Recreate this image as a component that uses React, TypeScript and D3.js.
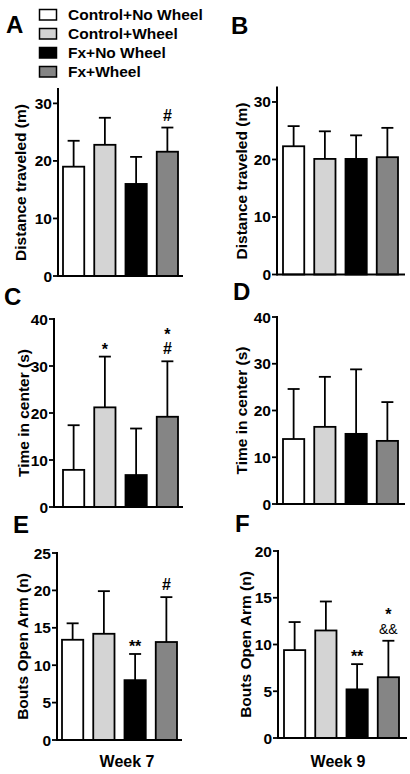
import React from "react";
import * as d3 from "d3";

const groups = ["Control+No Wheel", "Control+Wheel", "Fx+No Wheel", "Fx+Wheel"];
const groupColors = ["#ffffff", "#d4d4d4", "#000000", "#858585"];

const distW7Mean = [19.0, 22.8, 16.0, 21.6];
const distW7Err = [23.5, 27.5, 20.7, 25.8];
const distW9Mean = [22.3, 20.1, 20.1, 20.4];
const distW9Err = [25.8, 24.9, 24.2, 25.5];
const centerW7Mean = [7.9, 21.2, 6.8, 19.2];
const centerW7Err = [17.4, 32.0, 16.7, 31.0];
const centerW9Mean = [13.9, 16.5, 15.0, 13.5];
const centerW9Err = [24.6, 27.2, 28.8, 21.8];
const boutsW7Mean = [13.4, 14.2, 8.0, 13.1];
const boutsW7Err = [15.6, 19.9, 11.5, 19.1];
const boutsW9Mean = [9.4, 11.5, 5.2, 6.5];
const boutsW9Err = [12.4, 14.6, 7.9, 10.4];

const distAnn = [[], [], [], ["#"]];
const distW9Ann = [[], [], [], []];
const centerAnn = [[], ["*"], [], ["*", "#"]];
const centerW9Ann = [[], [], [], []];
const boutsAnn = [[], [], ["**"], ["#"]];
const boutsW9Ann = [[], [], ["**"], ["*", "&&"]];

const distTicks = [0, 10, 20, 30];
const centerTicks = [0, 10, 20, 30, 40];
const boutsW7Ticks = [0, 5, 10, 15, 20, 25];
const boutsW9Ticks = [0, 5, 10, 15, 20];

const FONT = "'Liberation Sans', Arial, Helvetica, sans-serif";

type Panel = {
  letter: string; lx: number; ly: number;
  axisX: number; band: [number, number]; xEnd: number;
  yDomain: [number, number]; yRange: [number, number];
  ticks: number[]; label: string; labelX: number;
  mean: number[]; err: number[]; ann: string[][];
};

const panels: Panel[] = [
  { letter: "A", lx: 6, ly: 33, axisX: 58, band: [58, 183], xEnd: 183, yDomain: [0, 32.5], yRange: [276, 89], ticks: distTicks, label: "Distance traveled (m)", labelX: 20, mean: distW7Mean, err: distW7Err, ann: distAnn },
  { letter: "B", lx: 231, ly: 34, axisX: 277, band: [278, 403], xEnd: 405, yDomain: [0, 32.5], yRange: [274.5, 87.6], ticks: distTicks, label: "Distance traveled (m)", labelX: 241, mean: distW9Mean, err: distW9Err, ann: distW9Ann },
  { letter: "C", lx: 4, ly: 305, axisX: 54, band: [58, 183], xEnd: 183, yDomain: [0, 40], yRange: [507, 319], ticks: centerTicks, label: "Time in center (s)", labelX: 23, mean: centerW7Mean, err: centerW7Err, ann: centerAnn },
  { letter: "D", lx: 233, ly: 300, axisX: 277, band: [278, 403], xEnd: 405, yDomain: [0, 40], yRange: [504, 317], ticks: centerTicks, label: "Time in center (s)", labelX: 241, mean: centerW9Mean, err: centerW9Err, ann: centerW9Ann },
  { letter: "E", lx: 13, ly: 533, axisX: 57, band: [57, 182], xEnd: 182, yDomain: [0, 25], yRange: [740, 553], ticks: boutsW7Ticks, label: "Bouts Open Arm (n)", labelX: 22, mean: boutsW7Mean, err: boutsW7Err, ann: boutsAnn },
  { letter: "F", lx: 235, ly: 532, axisX: 278, band: [279, 404], xEnd: 407, yDomain: [0, 20], yRange: [738, 551], ticks: boutsW9Ticks, label: "Bouts Open Arm (n)", labelX: 245, mean: boutsW9Mean, err: boutsW9Err, ann: boutsW9Ann },
];

function PanelView({ p }: { p: Panel }) {
  const x = d3.scaleBand<string>().domain(groups).range(p.band).paddingInner(0.32).paddingOuter(0.16);
  const y = d3.scaleLinear().domain(p.yDomain).range(p.yRange);
  const y0 = y(0);
  const bw = x.bandwidth();
  const cy = (p.yRange[0] + p.yRange[1]) / 2;
  return (
    <g>
      <text x={p.lx} y={p.ly} fontSize={24} fontWeight="bold" fontFamily={FONT}>{p.letter}</text>
      <text transform={`translate(${p.labelX},${cy}) rotate(-90)`} textAnchor="middle" dominantBaseline="central" fontSize={15.5} fontWeight="bold" fontFamily={FONT}>{p.label}</text>
      {groups.map((g, i) => {
        const bx = x(g)!;
        const cx = bx + bw / 2;
        const top = y(p.mean[i]);
        const et = y(p.err[i]);
        const ann = p.ann[i];
        const n = ann.length;
        const last = n ? ann[n - 1] : "";
        const base = et - (last.startsWith("*") ? 2 : 7);
        return (
          <g key={g}>
            <line x1={cx} x2={cx} y1={top} y2={et} stroke="#000" strokeWidth={1.8} />
            <line x1={cx - 6} x2={cx + 6} y1={et} y2={et} stroke="#000" strokeWidth={1.8} />
            <rect x={bx} y={top} width={bw} height={y0 - top} fill={groupColors[i]} stroke="#000" strokeWidth={1.8} />
            {n > 0 && (
              <text x={cx} y={base - (n - 1) * 14} textAnchor="middle" fontFamily={FONT}>
                {ann.map((s, k) => (
                  <tspan key={k} x={cx} dy={k === 0 ? 0 : 14} fontSize={s === "&&" ? 14 : 16} fontWeight={s === "&&" ? "normal" : "bold"}>{s}</tspan>
                ))}
              </text>
            )}
          </g>
        );
      })}
      <line x1={p.axisX} x2={p.axisX} y1={y0 + 1} y2={p.yRange[1] - 1} stroke="#000" strokeWidth={2} />
      <line x1={p.axisX} x2={p.xEnd} y1={y0} y2={y0} stroke="#000" strokeWidth={2} />
      {p.ticks.map((t) => (
        <g key={t}>
          <line x1={p.axisX - 5} x2={p.axisX} y1={y(t)} y2={y(t)} stroke="#000" strokeWidth={1.8} />
          <text x={p.axisX - 6} y={y(t)} textAnchor="end" dominantBaseline="central" fontSize={15.5} fontWeight="bold" fontFamily={FONT}>{t}</text>
        </g>
      ))}
    </g>
  );
}

export default function App() {
  return (
    <svg width={410} height={774} style={{ position: "absolute", left: 0, top: 0, background: "#fff" }}>
      <rect width={410} height={774} fill="#fff" />
      {groups.map((g, i) => (
        <g key={g}>
          <rect x={39.5} y={9.5 + i * 19} width={17} height={10.5} fill={groupColors[i]} stroke="#000" strokeWidth={1.5} />
          <text x={68} y={19.8 + i * 19.2} fontSize={15.5} fontWeight="bold" fontFamily={FONT}>{g}</text>
        </g>
      ))}
      {panels.map((p) => <PanelView key={p.letter} p={p} />)}
      <text x={127} y={767} textAnchor="middle" fontSize={16} fontWeight="bold" fontFamily={FONT}>Week 7</text>
      <text x={338} y={767} textAnchor="middle" fontSize={16} fontWeight="bold" fontFamily={FONT}>Week 9</text>
    </svg>
  );
}
